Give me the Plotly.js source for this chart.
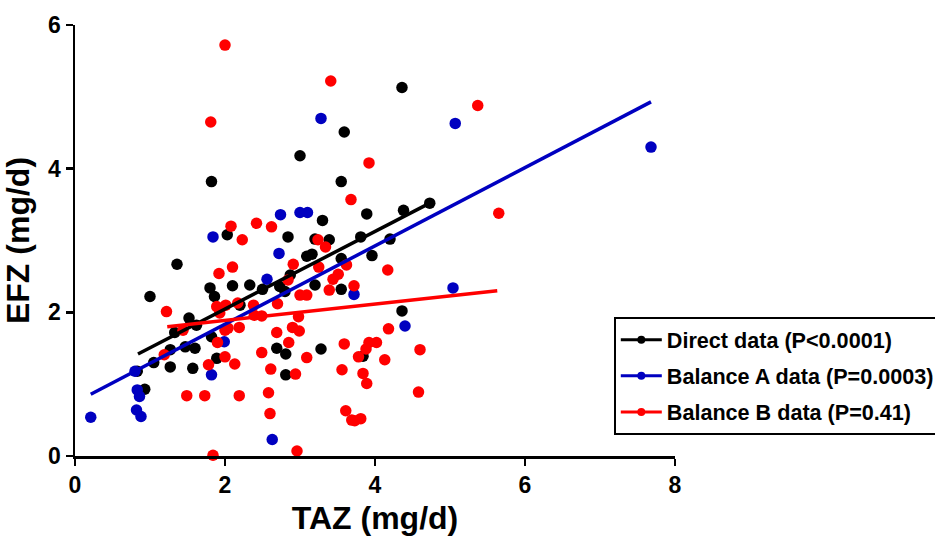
<!DOCTYPE html>
<html>
<head>
<meta charset="utf-8">
<script src="https://cdn.plot.ly/plotly-3.0.1.min.js"></script>
<style>html,body{margin:0;padding:0;background:#fff;}#chart{width:935px;height:539px;}</style>
</head>
<body>
<div id="chart"></div>
<script>
// Direct data (black)
const directX = [4.36,3.59,3.00,1.82,3.55,4.73,4.38,3.89,3.30,2.03,2.84,3.81,3.20,3.39,4.20,3.96,3.09,3.16,3.55,1.36,2.87,3.20,2.33,2.10,1.80,2.50,3.55,2.73,2.80,1.00,1.86,2.20,4.36,1.52,1.62,1.33,1.82,1.47,1.60,1.27,2.69,3.28,2.81,1.89,3.84,1.05,1.27,1.57,2.81,0.93,0.83];
const directY = [5.13,4.51,4.18,3.82,3.82,3.52,3.42,3.37,3.28,3.08,3.05,3.05,3.02,3.01,3.02,2.79,2.78,2.81,2.75,2.67,2.52,2.38,2.38,2.37,2.34,2.32,2.32,2.36,2.29,2.22,2.22,2.10,2.02,1.92,1.82,1.72,1.66,1.52,1.50,1.48,1.50,1.49,1.42,1.36,1.39,1.30,1.24,1.22,1.13,0.93,1.18];

// Balance A data (blue)
const balAX = [3.28,5.07,7.68,2.74,3.00,3.10,1.84,2.72,2.56,5.04,3.72,4.40,1.99,1.82,0.80,0.83,0.86,0.82,0.88,0.21,2.63];
const balAY = [4.70,4.63,4.30,3.36,3.39,3.39,3.05,2.82,2.46,2.34,2.25,1.81,1.59,1.13,1.18,0.92,0.83,0.64,0.55,0.54,0.23];

// Balance B data (red)
const balBX = [2.00,3.41,5.37,1.81,3.92,3.68,5.65,2.08,2.42,2.62,2.23,3.24,3.34,2.91,1.92,2.10,3.62,3.25,4.17,2.84,3.44,3.51,3.39,3.72,3.00,3.09,2.70,2.38,2.17,2.01,1.89,1.22,1.93,2.39,2.49,2.98,1.44,2.00,2.04,2.19,2.90,2.99,2.69,4.18,1.19,1.90,2.85,3.59,3.92,4.02,3.88,4.60,2.49,2.00,3.09,3.78,4.13,1.78,2.13,2.61,3.56,2.94,3.84,3.89,4.58,1.49,1.73,2.19,2.58,3.61,2.60,3.69,3.73,3.81,1.84,2.96];
const balBY = [5.72,5.22,4.88,4.65,4.08,3.57,3.38,3.20,3.24,3.19,3.01,3.01,2.91,2.67,2.54,2.63,2.66,2.63,2.59,2.45,2.46,2.53,2.31,2.37,2.24,2.24,2.12,2.10,2.13,2.10,2.08,2.01,1.99,1.96,1.95,1.94,1.75,1.75,1.78,1.79,1.79,1.74,1.72,1.77,1.41,1.58,1.58,1.56,1.58,1.58,1.49,1.48,1.44,1.38,1.37,1.38,1.34,1.27,1.28,1.21,1.20,1.14,1.15,1.01,0.89,0.84,0.84,0.84,0.88,0.63,0.59,0.50,0.49,0.52,0.01,0.07];

// Fitted regression lines (endpoints)
const directFitX = [0.84, 4.73], directFitY = [1.42, 3.52];
const balAFitX = [0.21, 7.68], balAFitY = [0.86, 4.93];
const balBFitX = [1.23, 5.63], balBFitY = [1.80, 2.30];

const seriesNames = ["Direct data (P<0.0001)", "Balance A data (P=0.0003)", "Balance B data (P=0.41)"];
const colors = ["#000000", "#0000c0", "#ff0000"];

const pts = [[directX,directY],[balAX,balAY],[balBX,balBY]];
const fits = [[directFitX,directFitY],[balAFitX,balAFitY],[balBFitX,balBFitY]];

const traces = [];
pts.forEach((p,i)=>{
  traces.push({x:p[0], y:p[1], type:'scatter', mode:'markers', showlegend:false, cliponaxis:false,
    marker:{color:colors[i], size:11.5, line:{width:0}}, hoverinfo:'x+y'});
});
fits.forEach((f,i)=>{
  traces.push({x:f[0], y:f[1], type:'scatter', mode:'lines', showlegend:false, cliponaxis:false,
    line:{color:colors[i], width:3.5}});
});
seriesNames.forEach((n,i)=>{
  traces.push({x:[null], y:[null], type:'scatter', mode:'lines+markers', name:n, legendgroup:'g'+i,
    line:{color:colors[i], width:3}, marker:{color:colors[i], size:8}});
});

const narrow = "Liberation Sans Narrow, Arial Narrow, Liberation Sans, Arial, sans-serif";
const layout = {
  width:935, height:539,
  margin:{l:75, r:260, t:25, b:83, autoexpand:false},
  paper_bgcolor:'#fff', plot_bgcolor:'#fff',
  xaxis:{range:[0,8], tickvals:[0,2,4,6,8], showgrid:false, zeroline:false, showline:true, linecolor:'#000', linewidth:2.5,
    ticks:'outside', ticklen:7, tickwidth:2.5, tickcolor:'#000',
    tickfont:{family:narrow, size:23, color:'#000', weight:'bold'},
    title:{text:'TAZ (mg/d)', font:{family:narrow, size:32, color:'#000', weight:'bold'}, standoff:10}},
  yaxis:{range:[0,6], tickvals:[0,2,4,6], showgrid:false, zeroline:false, showline:true, linecolor:'#000', linewidth:2.5,
    ticks:'outside', ticklen:7, tickwidth:2.5, tickcolor:'#000',
    tickfont:{family:narrow, size:23, color:'#000', weight:'bold'},
    title:{text:'EFZ (mg/d)', font:{family:narrow, size:32, color:'#000', weight:'bold'}, standoff:12}},
  legend:{x:0.898, y:0.322, xanchor:'left', yanchor:'top', xref:'paper', yref:'paper', itemwidth:41,
    bordercolor:'#000', borderwidth:2, bgcolor:'#fff', traceorder:'grouped', tracegroupgap:5,
    font:{family:"Liberation Sans, Arial, sans-serif", size:21.6, color:'#000', weight:'bold'}},
  showlegend:true
};
Plotly.newPlot('chart', traces, layout, {displayModeBar:false, staticPlot:true});
</script>
</body>
</html>
